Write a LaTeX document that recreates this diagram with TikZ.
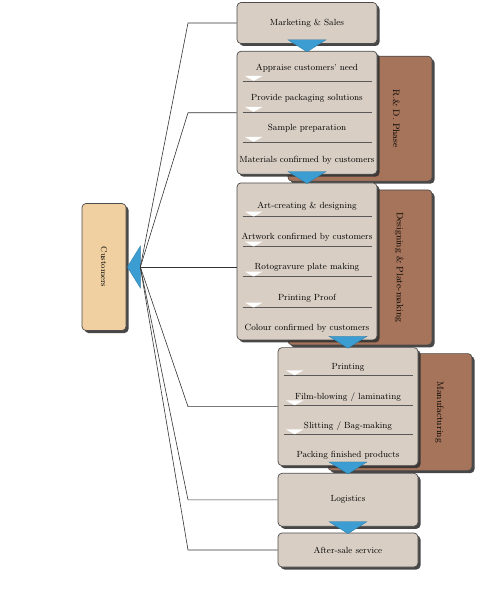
\documentclass[tikz,border=0pt]{standalone}
\usetikzlibrary{positioning,shadows,backgrounds}
\definecolor{stagegray}{RGB}{216,206,196}
\definecolor{phasebrown}{RGB}{166,116,90}
\definecolor{custorange}{RGB}{240,207,160}
\definecolor{flowblue}{RGB}{60,157,210}
\tikzset{
    %Define style for grey step boxes
    stage/.style={
           rectangle,
           rounded corners=4pt,
           draw=black!70, line width=.7pt,
           fill=stagegray,
           minimum width=140pt,
           inner sep=2pt,
           font=\fontsize{8.9}{10}\selectfont,
           drop shadow={shadow xshift=2.5pt,shadow yshift=-2.5pt,
                        fill=black!80,opacity=.9}},
    % Define style for brown phase panels
    phase/.style={
           rectangle,
           rounded corners=4pt,
           draw=black!70, line width=.7pt,
           fill=phasebrown,
           minimum width=144pt,
           anchor=north east,
           drop shadow={shadow xshift=2.5pt,shadow yshift=-2.5pt,
                        fill=black!80,opacity=.9}},
    phasetext/.style={
           rotate=-90,
           inner sep=0pt,
           font=\fontsize{9.3}{10}\selectfont},
    item/.style={
           inner sep=0pt,
           font=\fontsize{8.9}{10}\selectfont},
    % Define blue flow triangles and links
    flow/.style={
           fill=flowblue,
           draw=flowblue!75!black,
           line width=.3pt},
    link/.style={
           draw=black!80,
           line width=.6pt},
    divider/.pic={
           \draw[black!65,line width=.6pt] (0,0) -- (129,0);
           \fill[white] (2,-5) -- (20,-5) -- (11,0) -- cycle;}
}
\begin{document}
\begin{tikzpicture}[x=1pt,y=-1pt,node distance=7pt]
    \useasboundingbox (0,0) rectangle (481,594);
    % stages
    \node (mkt) [stage,minimum height=41pt] at (307,23)
          {Marketing \& Sales};
    \node (rd) [stage,minimum height=123pt] [below=of mkt] {};
    \node (des) [stage,minimum height=157pt] [below=8pt of rd] {};
    \node (man) [stage,minimum height=118pt] [below=of des,xshift=41pt] {};
    \node (log) [stage,minimum height=53pt] [below=of man]
          {Logistics};
    \node (aft) [stage,minimum height=34pt] [below=6pt of log]
          {\raisebox{-3pt}{After-sale service}};
    % steps inside the phases
    \foreach \dy/\txt [count=\i] in {17/Appraise customers' need,
          47/Provide packaging solutions,77/Sample preparation,
          109/Materials confirmed by customers}
      \node (rd\i) [item] at ([yshift=-\dy pt]rd.north) {\txt};
    \foreach \dy in {30,61,91}
      \pic at ([xshift=6pt,yshift=-\dy pt]rd.north west) {divider};
    \foreach \dy/\txt [count=\i] in {24/Art-creating \& designing,
          55/Artwork confirmed by customers,85/Rotogravure plate making,
          116/Printing Proof,146/Colour confirmed by customers}
      \node (des\i) [item] at ([yshift=-\dy pt]des.north) {\txt};
    \foreach \dy in {34,64,94,125}
      \pic at ([xshift=6pt,yshift=-\dy pt]des.north west) {divider};
    \foreach \dy/\txt [count=\i] in {20/Printing,
          50/{Film-blowing / laminating},79/{Slitting / Bag-making},
          108/Packing finished products}
      \node (man\i) [item] at ([yshift=-\dy pt]man.north) {\txt};
    \foreach \dy in {28,58,87}
      \pic at ([xshift=6pt,yshift=-\dy pt]man.north west) {divider};
    % phase panels behind
    \begin{pgfonlayer}{background}
      \node (rdpanel) [phase,minimum height=125pt]
            at ([xshift=55pt,yshift=-5pt]rd.north east) {};
      \node (despanel) [phase,minimum height=155pt]
            at ([xshift=55pt,yshift=-7pt]des.north east) {};
      \node (manpanel) [phase,minimum height=117pt]
            at ([xshift=54pt,yshift=-6pt]man.north east) {};
    \end{pgfonlayer}
    \node (rdlabel) [phasetext] at ([xshift=-36pt]rdpanel.east)
          {R.\& D. Phase};
    \node (deslabel) [phasetext] at ([xshift=-33pt]despanel.east)
          {Designing \& Plate-making};
    \node (manlabel) [phasetext] at ([xshift=-33pt]manpanel.east)
          {Manufacturing};
    % flow between stages
    \foreach \n in {rd,des,man,log,aft}
      \filldraw[flow] ([xshift=-19pt,yshift=11pt]\n.north)
          -- ([xshift=19pt,yshift=11pt]\n.north)
          -- ([yshift=-1pt]\n.north) -- cycle;
    % customers
    \node (cust) [stage,fill=custorange,minimum width=44pt,
          minimum height=127pt] at (104,267) {};
    \node (custtext) [phasetext,font=\fontsize{8.5}{10}\selectfont]
          at (cust) {Customers};
    \coordinate (hub) at ([xshift=14pt]cust.east);
    \coordinate (bend) at (188,0);
    \filldraw[flow] ([yshift=21pt]hub) -- ([yshift=-21pt]hub)
          -- ([xshift=1pt]cust.east) -- cycle;
    \foreach \n in {mkt,rd,man,log,aft}
      \draw[link] (hub) -- (bend |- \n.west) -- (\n.west);
    \draw[link] (hub) -- (hub -| des.west);
\end{tikzpicture}
\end{document}
